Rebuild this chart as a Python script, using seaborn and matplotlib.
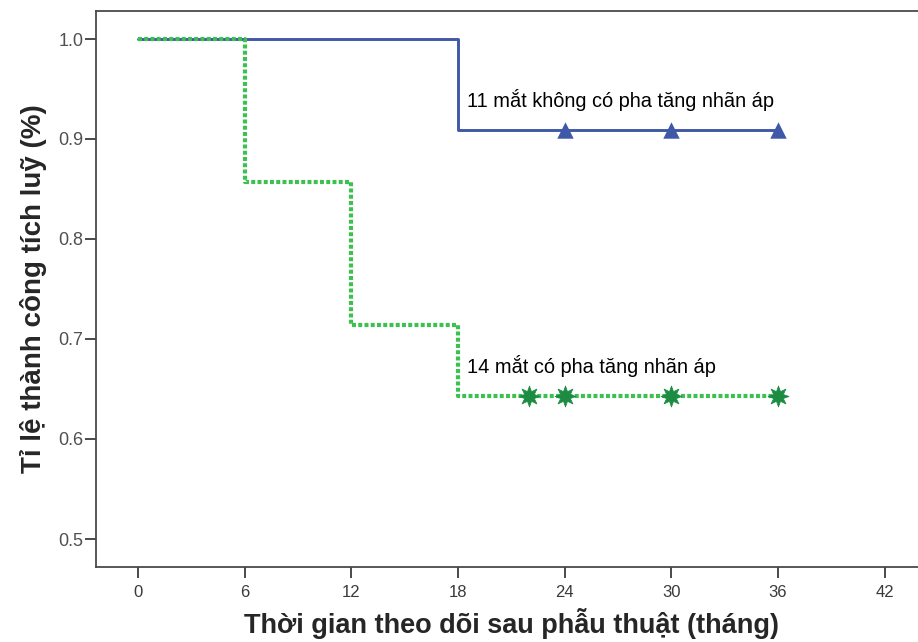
import matplotlib
matplotlib.use("Agg")
import matplotlib.pyplot as plt
import seaborn as sns
import pandas as pd

# Kaplan-Meier step curves (time in months, cumulative success)
blue_time = [0, 18, 36]
blue_surv = [1.0, 10 / 11, 10 / 11]
blue_cens_time = [24, 30, 36]

green_time = [0, 6, 12, 18, 36]
green_surv = [1.0, 12 / 14, 10 / 14, 9 / 14, 9 / 14]
green_cens_time = [22, 24, 30, 36]

blue_label = "11 mắt không có pha tăng nhãn áp"
green_label = "14 mắt có pha tăng nhãn áp"

x_ticks = [0, 6, 12, 18, 24, 30, 36, 42]
y_ticks = [0.5, 0.6, 0.7, 0.8, 0.9, 1.0]

sns.set_style("white")
plt.rcParams["font.family"] = ["Liberation Sans", "DejaVu Sans"]

blue_c = "#3f58a8"
green_c = "#3cc150"
green_mk = "#1b8c42"
spine_c = "#4a4a4a"

fig = plt.figure(figsize=(9.18, 6.42), dpi=100)
ax = fig.add_axes([96 / 918, 75 / 642, 1 - 96 / 918 + 0.01, 556 / 642])

blue_df = pd.DataFrame({"t": blue_time, "s": blue_surv})
green_df = pd.DataFrame({"t": green_time, "s": green_surv})

sns.lineplot(data=blue_df, x="t", y="s", ax=ax, color=blue_c, linewidth=2.1,
             drawstyle="steps-post", estimator=None, sort=False, zorder=2)
sns.lineplot(data=green_df, x="t", y="s", ax=ax, color=green_c, linewidth=3.0,
             drawstyle="steps-post", estimator=None, sort=False, zorder=3,
             dashes=False, linestyle=(0, (0.95, 0.55)), dash_capstyle="butt")

blue_cens = pd.DataFrame({"t": blue_cens_time, "s": [blue_surv[-1]] * len(blue_cens_time)})
green_cens = pd.DataFrame({"t": green_cens_time, "s": [green_surv[-1]] * len(green_cens_time)})
sns.scatterplot(data=blue_cens, x="t", y="s", ax=ax, marker="^", s=140,
                color=blue_c, edgecolor=blue_c, linewidth=0, zorder=4)
sns.scatterplot(data=green_cens, x="t", y="s", ax=ax, marker=(8, 1, 0), s=230,
                color=green_mk, edgecolor=green_mk, linewidth=0.5, zorder=4)

ax.text(18.5, 0.939, blue_label, fontsize=14.4, color="black", va="center", ha="left")
ax.text(18.5, 0.673, green_label, fontsize=14.4, color="black", va="center", ha="left")

ax.set_xlim(-2.36, 44.4)
ax.set_ylim(0.472, 1.028)
ax.set_xticks(x_ticks)
ax.set_yticks(y_ticks)
ax.set_xticklabels([str(v) for v in x_ticks], fontsize=12, color="#3a3a3a")
ax.set_yticklabels([f"{v:.1f}" for v in y_ticks], fontsize=13, color="#505050")
ax.tick_params(axis="both", direction="out", length=8, width=1.4, color=spine_c,
               bottom=True, left=True)
ax.tick_params(axis="x", pad=5)
ax.tick_params(axis="y", pad=1)

for name in ["left", "bottom", "top"]:
    ax.spines[name].set_color(spine_c)
    ax.spines[name].set_linewidth(1.3)
ax.spines["right"].set_visible(False)

ax.set_xlabel("Thời gian theo dõi sau phẫu thuật (tháng)",
              fontweight="bold", fontsize=19.5, labelpad=6)
ax.set_ylabel("Tỉ lệ thành công tích luỹ (%)", fontweight="bold", fontsize=20,
              labelpad=8)

fig.savefig("out.png", dpi=100)
